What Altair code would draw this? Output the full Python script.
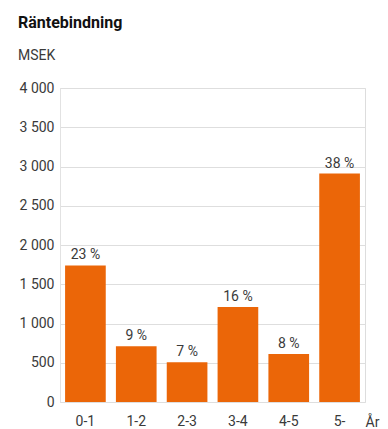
import altair as alt
import pandas as pd

categories = ["0-1", "1-2", "2-3", "3-4", "4-5", "5-"]
values = [1740, 710, 505, 1210, 610, 2910]
shares = ["23 %", "9 %", "7 %", "16 %", "8 %", "38 %"]

df = pd.DataFrame({"cat": categories, "val": values, "pct": shares})

FONT = "Roboto"
TXT = "#3a3a3a"

x = alt.X("cat:N", sort=categories,
          scale=alt.Scale(paddingInner=0.2, paddingOuter=0.1),
          axis=alt.Axis(title="År", labelAngle=0, domain=False, ticks=False,
                        labelPadding=12, labelFontSize=14, labelColor=TXT,
                        labelFont=FONT, titleFont=FONT, titleFontSize=14,
                        titleFontWeight="normal", titleColor=TXT,
                        titleX=305, titleY=20, titleAlign="left",
                        titleBaseline="middle", titleAnchor=None))
y = alt.Y("val:Q",
          scale=alt.Scale(domain=[0, 4000], nice=False),
          axis=alt.Axis(title=None, values=[0, 500, 1000, 1500, 2000, 2500, 3000, 3500, 4000],
                        format=",d", ticks=False, domain=True, domainColor="#e2e2e2",
                        gridColor="#dedede", labelPadding=6, labelFontSize=14,
                        labelColor=TXT, labelFont=FONT))

bars = alt.Chart(df).mark_bar(color="#EB6608").encode(x=x, y=y)
labels = alt.Chart(df).mark_text(dy=-3, baseline="bottom", fontSize=14, font=FONT,
                                 color=TXT).encode(x=x, y=y, text="pct:N")

chart = (bars + labels).properties(
    width=305, height=314,
    autosize=alt.AutoSizeParams(type="none"),
    padding={"left": 52, "top": 80, "right": 15, "bottom": 27},
    title=alt.TitleParams(text="Räntebindning", subtitle="MSEK", anchor="start",
                          frame="group", dx=-42, offset=18, font=FONT, fontSize=16,
                          fontWeight="bold", color="#111", subtitleFont=FONT,
                          subtitleFontSize=14, subtitleColor=TXT, subtitlePadding=18),
).configure_view(stroke=None).configure(locale={"number": {"decimal": ",", "thousands": "\u00a0", "grouping": [3], "currency": ["", " kr"]}})

chart.save("out.html", embed_options={"renderer": "svg", "actions": False})
